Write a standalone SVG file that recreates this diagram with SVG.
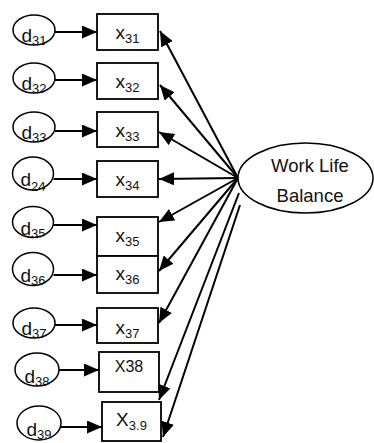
<svg xmlns="http://www.w3.org/2000/svg" width="374" height="443" viewBox="0 0 374 443">
  <style>
    .err { fill: #fff; stroke: #000; stroke-width: 1.5; }
    .box { fill: #fff; stroke: #000; stroke-width: 1.8; }
    .lat { fill: #fff; stroke: #000; stroke-width: 1.5; }
    .lbl { font-family: "Liberation Sans", Arial, sans-serif; font-size: 19px; fill: #111; text-anchor: middle; }
    .sub { font-size: 13px; }
    .edge { stroke: #000; stroke-width: 2; fill: none; marker-end: url(#ah); }
  </style>
  <defs>
    <marker id="ah" markerUnits="userSpaceOnUse" markerWidth="16" markerHeight="13" refX="15" refY="6.5" orient="auto">
      <path d="M0,0 L15,6.5 L0,13 z" fill="#000"/>
    </marker>
    <!-- label clip regions, slightly larger than the error-term outlines -->
    <clipPath id="c1"><ellipse cx="34" cy="30" rx="22" ry="16.5"/></clipPath>
    <clipPath id="c2"><ellipse cx="34" cy="78" rx="22" ry="16"/></clipPath>
    <clipPath id="c3"><ellipse cx="34" cy="127" rx="22" ry="16"/></clipPath>
    <clipPath id="c4"><ellipse cx="33" cy="173.5" rx="21.5" ry="20"/></clipPath>
    <clipPath id="c5"><ellipse cx="33" cy="222" rx="21.5" ry="16.5"/></clipPath>
    <clipPath id="c6"><ellipse cx="33" cy="269" rx="21.5" ry="17.5"/></clipPath>
    <clipPath id="c7"><ellipse cx="34" cy="323" rx="22" ry="16"/></clipPath>
    <clipPath id="c8"><ellipse cx="37" cy="369.5" rx="23" ry="17.5"/></clipPath>
    <clipPath id="c9"><ellipse cx="39" cy="423" rx="23" ry="18"/></clipPath>
  </defs>

  <!-- connectors -->
  <g id="connectors">
    <!-- error terms to indicators -->
    <line class="edge" x1="55" y1="32" x2="97" y2="32"/>
    <line class="edge" x1="55" y1="80" x2="97" y2="80"/>
    <line class="edge" x1="55" y1="131" x2="97" y2="131"/>
    <line class="edge" x1="53.5" y1="179" x2="97" y2="179"/>
    <line class="edge" x1="53.5" y1="225" x2="97" y2="225"/>
    <line class="edge" x1="53.5" y1="275" x2="97" y2="275"/>
    <line class="edge" x1="55" y1="325" x2="97" y2="325"/>
    <line class="edge" x1="59" y1="370" x2="99" y2="370"/>
    <line class="edge" x1="61" y1="427" x2="102" y2="427"/>
    <!-- latent factor to indicators -->
    <line class="edge" x1="238" y1="178" x2="160" y2="31"/>
    <line class="edge" x1="238" y1="178" x2="160" y2="85"/>
    <line class="edge" x1="238" y1="178" x2="159" y2="132"/>
    <line class="edge" x1="238" y1="178" x2="159" y2="179"/>
    <line class="edge" x1="238" y1="178" x2="159" y2="222"/>
    <line class="edge" x1="238" y1="178" x2="159" y2="271"/>
    <line class="edge" x1="238" y1="178" x2="159" y2="323"/>
    <line class="edge" x1="239" y1="193" x2="159" y2="400"/>
    <line class="edge" x1="240" y1="205" x2="163" y2="437"/>
  </g>

  <!-- error terms -->
  <g id="d31"><ellipse class="err" cx="34" cy="30" rx="21" ry="15"/>
    <text class="lbl" x="34" y="42" clip-path="url(#c1)">d<tspan class="sub" dy="3">31</tspan></text></g>
  <g id="d32"><ellipse class="err" cx="34" cy="78" rx="21" ry="15"/>
    <text class="lbl" x="34" y="90" clip-path="url(#c2)">d<tspan class="sub" dy="3">32</tspan></text></g>
  <g id="d33"><ellipse class="err" cx="34" cy="127" rx="21" ry="15"/>
    <text class="lbl" x="34" y="139" clip-path="url(#c3)">d<tspan class="sub" dy="3">33</tspan></text></g>
  <g id="d24"><ellipse class="err" cx="33" cy="173.5" rx="20.5" ry="16.5"/>
    <text class="lbl" x="33" y="186" clip-path="url(#c4)">d<tspan class="sub" dy="5">24</tspan></text></g>
  <g id="d35"><ellipse class="err" cx="33" cy="222" rx="20.5" ry="15.5"/>
    <text class="lbl" x="33" y="234.5" clip-path="url(#c5)">d<tspan class="sub" dy="3">35</tspan></text></g>
  <g id="d36"><ellipse class="err" cx="33" cy="269" rx="20.5" ry="16.5"/>
    <text class="lbl" x="33" y="281.5" clip-path="url(#c6)">d<tspan class="sub" dy="3">36</tspan></text></g>
  <g id="d37"><ellipse class="err" cx="34" cy="323" rx="21" ry="15"/>
    <text class="lbl" x="34" y="335" clip-path="url(#c7)">d<tspan class="sub" dy="3">37</tspan></text></g>
  <g id="d38"><ellipse class="err" cx="37" cy="369.5" rx="22" ry="16.5"/>
    <text class="lbl" x="37" y="382.5" clip-path="url(#c8)">d<tspan class="sub" dy="3">38</tspan></text></g>
  <g id="d39"><ellipse class="err" cx="39" cy="423" rx="22" ry="17"/>
    <text class="lbl" x="39" y="436" clip-path="url(#c9)">d<tspan class="sub" dy="3">39</tspan></text></g>

  <!-- indicators -->
  <g id="x31"><rect class="box" x="97" y="14" width="61" height="36"/>
    <text class="lbl" x="127.5" y="39">x<tspan class="sub" dy="4">31</tspan></text></g>
  <g id="x32"><rect class="box" x="97" y="63" width="61" height="36"/>
    <text class="lbl" x="127.5" y="88">x<tspan class="sub" dy="4">32</tspan></text></g>
  <g id="x33"><rect class="box" x="97" y="112" width="61" height="35"/>
    <text class="lbl" x="127.5" y="136.5">x<tspan class="sub" dy="4">33</tspan></text></g>
  <g id="x34"><rect class="box" x="97" y="161" width="61" height="36"/>
    <text class="lbl" x="127.5" y="185.5">x<tspan class="sub" dy="4">34</tspan></text></g>
  <g id="x35"><rect class="box" x="97" y="217" width="61" height="39"/>
    <text class="lbl" x="127.5" y="242">x<tspan class="sub" dy="4">35</tspan></text></g>
  <g id="x36"><rect class="box" x="97" y="256" width="61" height="37"/>
    <text class="lbl" x="127.5" y="280">x<tspan class="sub" dy="4">36</tspan></text></g>
  <g id="x37"><rect class="box" x="97" y="308" width="61" height="35"/>
    <text class="lbl" x="127.5" y="334">x<tspan class="sub" dy="4">37</tspan></text></g>
  <g id="x38"><rect class="box" x="99" y="352" width="60" height="40"/>
    <text class="lbl" x="129" y="372" style="font-size:16px">X38</text></g>
  <g id="x39"><rect class="box" x="102" y="402" width="59" height="39"/>
    <text class="lbl" x="131.5" y="426">X<tspan class="sub" dy="4">3.9</tspan></text></g>

  <!-- latent factor -->
  <g id="wlb"><ellipse class="lat" cx="305.5" cy="178" rx="67.5" ry="35"/>
    <text class="lbl" x="310" y="172" style="font-size:18.5px">Work Life</text>
    <text class="lbl" x="310" y="202" style="font-size:18.5px">Balance</text></g>
</svg>
